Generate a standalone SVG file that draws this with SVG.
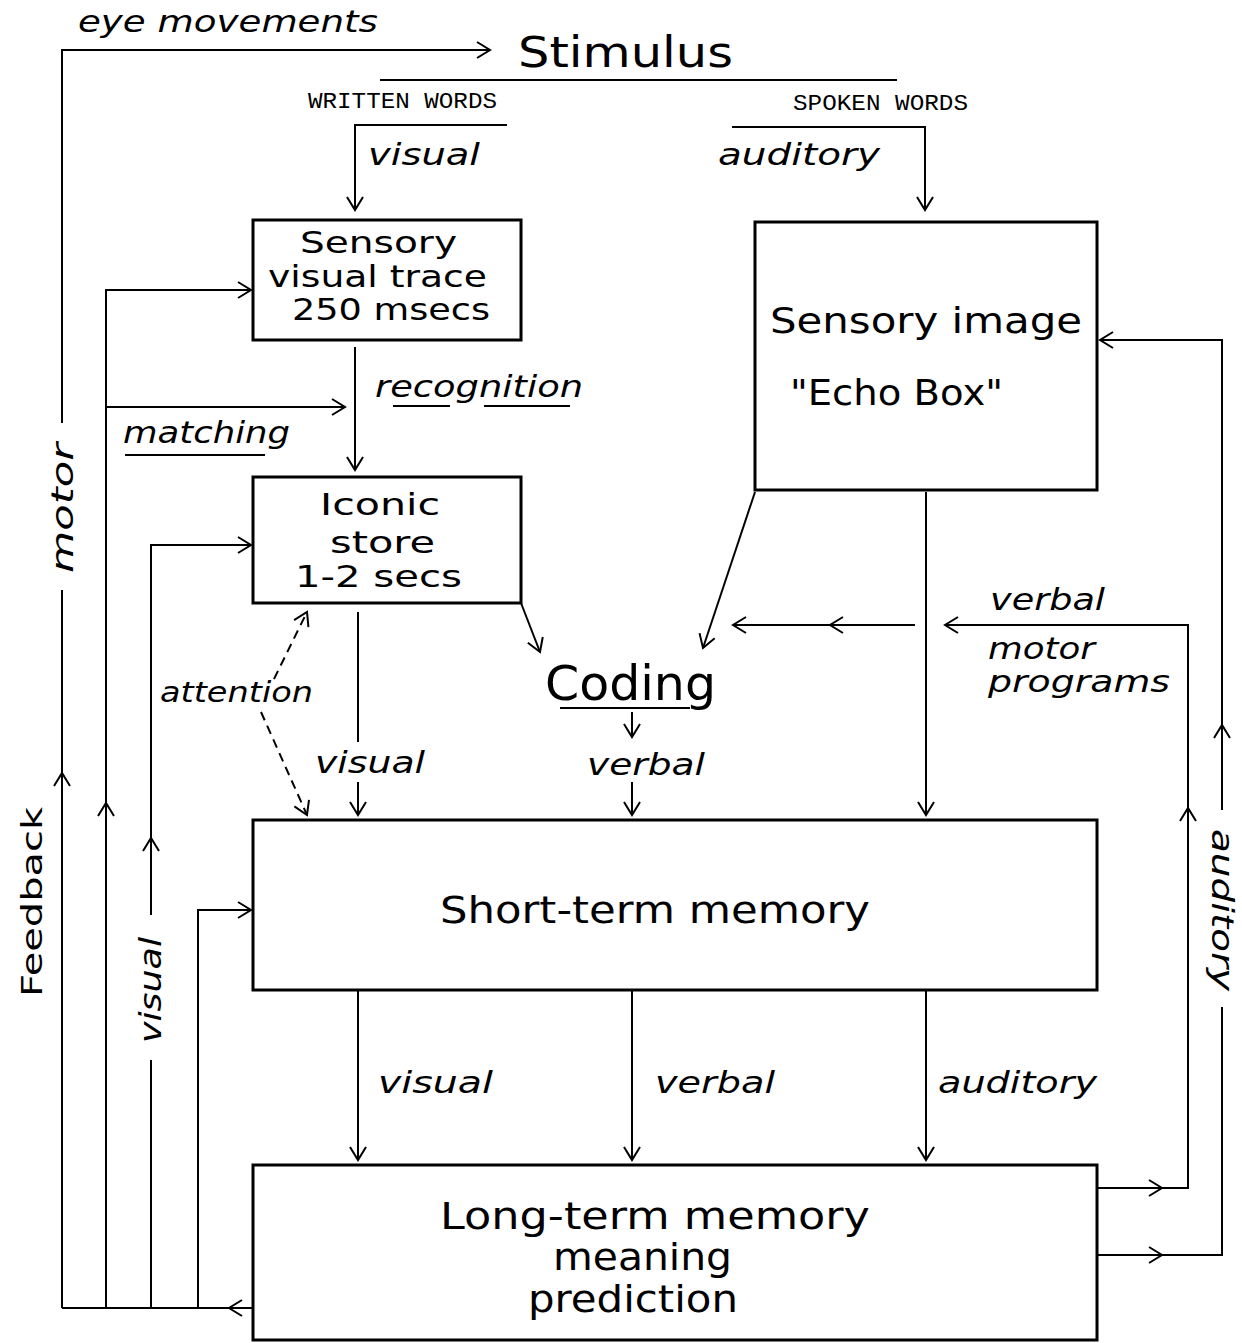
<svg xmlns="http://www.w3.org/2000/svg" width="1242" height="1343" viewBox="0 0 1242 1343">
<style>
  .ln{fill:none;stroke:#000;stroke-width:2}
  .ar{fill:none;stroke:#000;stroke-width:2;marker-end:url(#chev)}
  .ds{fill:none;stroke:#000;stroke-width:2;stroke-dasharray:9,6;marker-end:url(#chev)}
  .box{fill:#fff;stroke:#000;stroke-width:3}
  .t{font-family:"DejaVu Sans","Liberation Sans",sans-serif;fill:#000}
  .i{font-family:"DejaVu Sans","Liberation Sans",sans-serif;font-style:italic;fill:#000}
  .m{font-family:"Liberation Mono","DejaVu Sans Mono",monospace;fill:#000;font-size:22px}
</style>
<defs>
  <marker id="chev" markerUnits="userSpaceOnUse" viewBox="0 0 20 20" markerWidth="20" markerHeight="20" refX="16" refY="10" orient="auto">
    <path d="M3,2 L16,10 L3,18" fill="none" stroke="#000" stroke-width="2"/>
  </marker>
</defs>
<rect width="1242" height="1343" fill="#fff"/>

<g id="connectors">
  <!-- outer feedback / motor / eye movements -->
  <path class="ln" d="M62,1308 L62,590"/>
  <path class="ar" d="M62,423 L62,50 L490,50"/>
  <path class="ar" d="M62,790 L62,773"/>
  <path class="ln" d="M253,1308 L62,1308"/>
  <path class="ar" d="M242,1308 L229,1308"/>
  <!-- x=106 -->
  <path class="ar" d="M106,1308 L106,290 L251,290"/>
  <path class="ar" d="M106,820 L106,803"/>
  <path class="ar" d="M106,407 L345,407"/>
  <!-- x=151 -->
  <path class="ln" d="M151,1308 L151,1060"/>
  <path class="ar" d="M151,915 L151,545 L251,545"/>
  <path class="ar" d="M151,855 L151,838"/>
  <!-- x=198 -->
  <path class="ar" d="M198,1308 L198,910 L251,910"/>
  <!-- stimulus -->
  <path class="ln" d="M380,80 L897,80"/>
  <path class="ar" d="M507,125 L355,125 L355,210"/>
  <path class="ar" d="M732,127 L925,127 L925,210"/>
  <!-- recognition -->
  <path class="ar" d="M355,347 L355,470"/>
  <!-- iconic down -->
  <path class="ln" d="M358,612 L358,742"/>
  <path class="ar" d="M358,782 L358,815"/>
  <path class="ar" d="M521,603 L540,652"/>
  <!-- attention -->
  <path class="ds" d="M274,679 L307,612"/>
  <path class="ds" d="M261,712 L307,815"/>
  <!-- coding -->
  <path class="ar" d="M632,712 L632,737"/>
  <path class="ar" d="M632,782 L632,815"/>
  <!-- echo box -->
  <path class="ar" d="M755,492 L703,648"/>
  <path class="ar" d="M926,492 L926,815"/>
  <path class="ar" d="M915,625 L733,625"/>
  <path class="ar" d="M845,625 L830,625"/>
  <!-- verbal motor programs loop -->
  <path class="ar" d="M1097,1188 L1188,1188 L1188,625 L945,625"/>
  <path class="ar" d="M1145,1188 L1162,1188"/>
  <path class="ar" d="M1188,825 L1188,808"/>
  <!-- outer auditory loop -->
  <path class="ln" d="M1097,1255 L1222,1255 L1222,1007"/>
  <path class="ar" d="M1222,810 L1222,340 L1100,340"/>
  <path class="ar" d="M1145,1255 L1162,1255"/>
  <path class="ar" d="M1222,742 L1222,725"/>
  <!-- STM to LTM -->
  <path class="ar" d="M358,990 L358,1160"/>
  <path class="ar" d="M632,990 L632,1160"/>
  <path class="ar" d="M926,990 L926,1160"/>
  <!-- underlines -->
  <path class="ln" d="M560,708 L690,708"/>
  <path class="ln" d="M125,455 L265,455"/>
  <path class="ln" d="M393,406 L450,406"/>
  <path class="ln" d="M484,406 L570,406"/>
</g>

<g id="labels">
  <text class="i" x="78" y="32" font-size="30" textLength="300" lengthAdjust="spacingAndGlyphs">eye movements</text>
  <text class="t" x="518" y="67" font-size="42" textLength="215" lengthAdjust="spacingAndGlyphs">Stimulus</text>
  <text class="m" x="308" y="108" textLength="189" lengthAdjust="spacingAndGlyphs">WRITTEN WORDS</text>
  <text class="m" x="793" y="110" textLength="175" lengthAdjust="spacingAndGlyphs">SPOKEN WORDS</text>
  <text class="i" x="368" y="165" font-size="30" textLength="112" lengthAdjust="spacingAndGlyphs">visual</text>
  <text class="i" x="718" y="165" font-size="30" textLength="162" lengthAdjust="spacingAndGlyphs">auditory</text>
  <text class="i" x="375" y="397" font-size="30" textLength="208" lengthAdjust="spacingAndGlyphs">recognition</text>
  <text class="i" x="123" y="443" font-size="30" textLength="167" lengthAdjust="spacingAndGlyphs">matching</text>
  <text class="i" x="160" y="702" font-size="29" textLength="153" lengthAdjust="spacingAndGlyphs">attention</text>
  <text class="i" x="315" y="773" font-size="30" textLength="110" lengthAdjust="spacingAndGlyphs">visual</text>
  <text class="t" x="545" y="700" font-size="48" textLength="171" lengthAdjust="spacingAndGlyphs">Coding</text>
  <text class="i" x="587" y="775" font-size="30" textLength="118" lengthAdjust="spacingAndGlyphs">verbal</text>
  <text class="i" x="990" y="610" font-size="30" textLength="115" lengthAdjust="spacingAndGlyphs">verbal</text>
  <text class="i" x="988" y="659" font-size="30" textLength="107" lengthAdjust="spacingAndGlyphs">motor</text>
  <text class="i" x="988" y="692" font-size="30" textLength="182" lengthAdjust="spacingAndGlyphs">programs</text>
  <text class="i" x="378" y="1093" font-size="30" textLength="115" lengthAdjust="spacingAndGlyphs">visual</text>
  <text class="i" x="655" y="1093" font-size="30" textLength="120" lengthAdjust="spacingAndGlyphs">verbal</text>
  <text class="i" x="938" y="1093" font-size="30" textLength="159" lengthAdjust="spacingAndGlyphs">auditory</text>
  <text class="i" transform="translate(73,508) rotate(-90)" text-anchor="middle" font-size="30" textLength="130" lengthAdjust="spacingAndGlyphs">motor</text>
  <text class="t" transform="translate(42,902) rotate(-90)" text-anchor="middle" font-size="28" textLength="190" lengthAdjust="spacingAndGlyphs">Feedback</text>
  <text class="i" transform="translate(161,990) rotate(-90)" text-anchor="middle" font-size="30" textLength="106" lengthAdjust="spacingAndGlyphs">visual</text>
  <text class="i" transform="translate(1212,910) rotate(90)" text-anchor="middle" font-size="30" textLength="162" lengthAdjust="spacingAndGlyphs">auditory</text>
</g>

<g id="sensory-visual-trace">
  <rect class="box" x="253" y="220" width="268" height="120"/>
  <text class="t" x="300" y="253" font-size="30" textLength="157" lengthAdjust="spacingAndGlyphs">Sensory</text>
  <text class="t" x="268" y="287" font-size="30" textLength="219" lengthAdjust="spacingAndGlyphs">visual trace</text>
  <text class="t" x="292" y="320" font-size="30" textLength="198" lengthAdjust="spacingAndGlyphs">250 msecs</text>
</g>

<g id="iconic-store">
  <rect class="box" x="253" y="477" width="268" height="126"/>
  <text class="t" x="320" y="515" font-size="30" textLength="120" lengthAdjust="spacingAndGlyphs">Iconic</text>
  <text class="t" x="330" y="553" font-size="30" textLength="105" lengthAdjust="spacingAndGlyphs">store</text>
  <text class="t" x="295" y="587" font-size="30" textLength="167" lengthAdjust="spacingAndGlyphs">1-2 secs</text>
</g>

<g id="echo-box">
  <rect class="box" x="755" y="222" width="342" height="268"/>
  <text class="t" x="770" y="333" font-size="36" textLength="312" lengthAdjust="spacingAndGlyphs">Sensory image</text>
  <text class="t" x="790" y="405" font-size="36" textLength="213" lengthAdjust="spacingAndGlyphs">"Echo Box"</text>
</g>

<g id="short-term-memory">
  <rect class="box" x="253" y="820" width="844" height="170"/>
  <text class="t" x="440" y="923" font-size="38" textLength="430" lengthAdjust="spacingAndGlyphs">Short-term memory</text>
</g>

<g id="long-term-memory">
  <rect class="box" x="253" y="1165" width="844" height="175"/>
  <text class="t" x="440" y="1229" font-size="38" textLength="430" lengthAdjust="spacingAndGlyphs">Long-term memory</text>
  <text class="t" x="553" y="1270" font-size="38" textLength="179" lengthAdjust="spacingAndGlyphs">meaning</text>
  <text class="t" x="528" y="1312" font-size="38" textLength="210" lengthAdjust="spacingAndGlyphs">prediction</text>
</g>
</svg>
